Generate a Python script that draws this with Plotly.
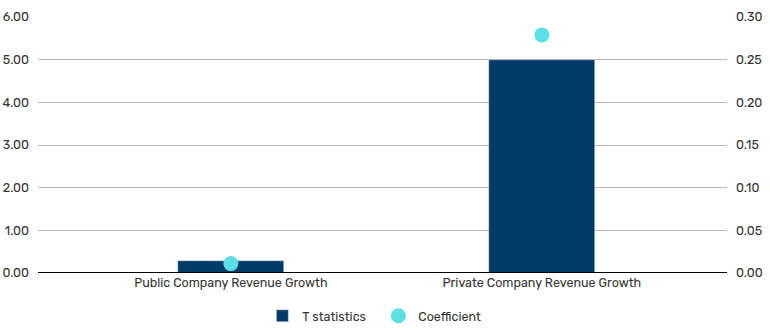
import plotly.graph_objects as go

categories = ["Public Company Revenue Growth", "Private Company Revenue Growth"]
t_statistics = [0.28, 5.00]
coefficient = [0.011, 0.279]

BAR = "#003a66"
DOT = "#5ce0e6"
FONT = "Rubik, Inter, 'Noto Sans', sans-serif"

fig = go.Figure()
fig.add_trace(go.Bar(x=[0, 1], y=t_statistics, name="T statistics", marker_color=BAR,
                     width=0.34, yaxis="y"))
fig.add_trace(go.Scatter(x=[0, 1], y=coefficient, name="Coefficient", mode="markers",
                         marker=dict(color=DOT, size=15), yaxis="y2"))

fig.update_layout(
    width=770, height=328,
    margin=dict(l=38, r=43, t=17, b=55, autoexpand=False),
    paper_bgcolor="white", plot_bgcolor="white",
    font=dict(family=FONT, size=12, color="#333333"),
    showlegend=True,
    legend=dict(orientation="h", x=0.494, xanchor="center", y=-0.11, yanchor="top",
                font=dict(size=12.5, color="#333333"), itemwidth=30,
                entrywidth=71, entrywidthmode="pixels"),
    xaxis=dict(range=[-0.62, 1.595], tickvals=[0, 1], ticktext=categories,
               tickfont=dict(size=12.5),
               showgrid=False, zeroline=False, showline=False, ticks=""),
    yaxis=dict(range=[0, 6], dtick=1, tickformat=".2f", showgrid=True,
               gridcolor="#bababa", gridwidth=1, zeroline=False, showline=False,
               ticks="", ticklabelstandoff=8, tickfont=dict(size=12.5)),
    yaxis2=dict(range=[0, 0.30], dtick=0.05, tickformat=".2f", overlaying="y",
                side="right", showgrid=False, zeroline=False, showline=False,
                ticks="", ticklabelstandoff=8, tickfont=dict(size=12.5)),
    bargap=0,
)
fig.add_shape(type="line", xref="paper", yref="y", x0=0, x1=1, y0=0, y1=0,
              line=dict(color="#000000", width=2), layer="above")

fig.write_html("out.html")
